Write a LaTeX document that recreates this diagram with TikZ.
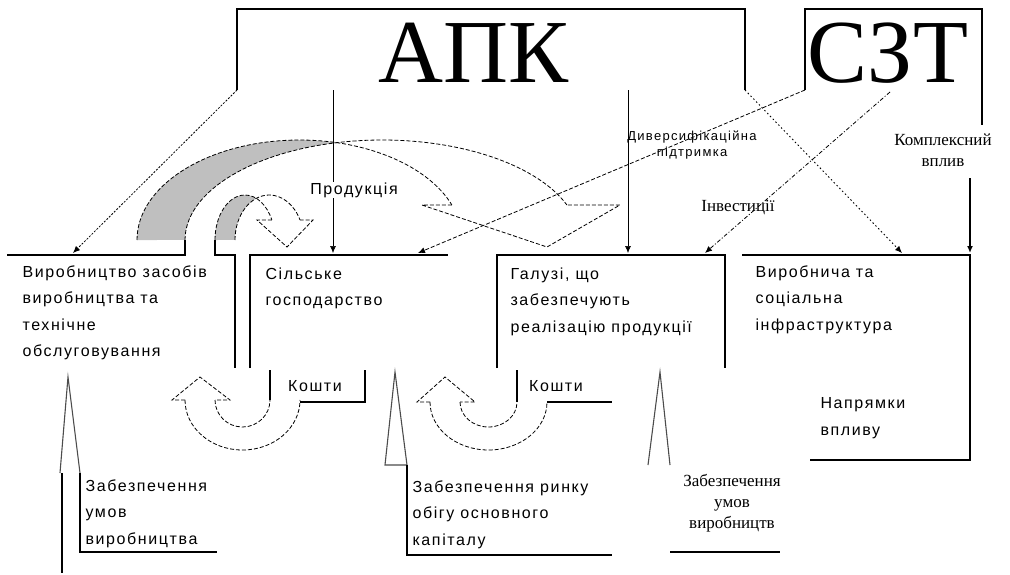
\documentclass[tikz,border=0pt]{standalone}
\usepackage{fontspec}
\setmainfont{Liberation Serif}
\newfontfamily\boxfont{Liberation Sans}[LetterSpace=10]
\usetikzlibrary{arrows.meta}

\tikzset{
    boxtext/.style={font={\boxfont\fontsize{16}{26.5}\selectfont},
        align=left, anchor=north west, inner sep=0pt},
    smalltext/.style={font={\boxfont\fontsize{16}{16}\selectfont},
        align=center, inner sep=1pt},
    serifnote/.style={font={\fontsize{17}{21}\selectfont},
        align=center, inner sep=0pt},
    bigname/.style={font={\fontsize{90}{90}\selectfont},
        anchor=base, inner sep=0pt},
    band/.style={dash pattern=on 4pt off 2pt, line width=0.8pt},
    tipped/.style={-{Latex[length=7pt, width=6pt]}},
}

\begin{document}
\begin{tikzpicture}[x=1pt, y=-1pt, line width=1.1pt]
    \useasboundingbox (0,0) rectangle (1010,574);
    % frames at the top
    \draw (237,90) coordinate (apkBL) |- (745,9) -- (745,90) coordinate (apkBR);
    \node[bigname] (apk) at (474,82) {АПК};
    \draw (805,90) coordinate (sztBL) |- (982,9) -- (982,125);
    \node[bigname] (szt) at (888,82) {СЗТ};
    \coordinate (sztZ) at (890,92);
    \coordinate (kvTop) at (970,178);
    \coordinate (prodTop) at (333,90);
    \coordinate (realTop) at (628,90);
    % arrow ends on the boxes
    \coordinate (b1in) at (73,253);
    \coordinate (b2a) at (333,253);
    \coordinate (b2b) at (418,253);
    \coordinate (b3a) at (628,253);
    \coordinate (b3b) at (705,253);
    \coordinate (b4a) at (902,253);
    \coordinate (b4b) at (970,253);

    % curved arrows, gray back side first
    \fill[black!25] (137,240) arc[start angle=180, end angle=283.26,
        x radius=162.6, y radius=100] arc[start angle=256.7, end angle=180,
        x radius=197.2, y radius=100] -- cycle;
    \fill[black!25] (215,240) arc[start angle=180, end angle=292.13,
        x radius=30, y radius=45] arc[start angle=247.73, end angle=180,
        x radius=34.3, y radius=45] -- cycle;
    \draw[band] (137,240) arc[start angle=180, end angle=339.5,
        x radius=162.6, y radius=100];
    \draw[band] (185,240) arc[start angle=180, end angle=339.5,
        x radius=197.2, y radius=100];
    \draw[band] (451.9,205) -- (422,205) -- (547,247) -- (620,205) -- (566.9,205);
    \draw[band] (215,240) arc[start angle=180, end angle=333.6,
        x radius=30, y radius=45];
    \draw[band] (235,240) arc[start angle=180, end angle=333.6,
        x radius=34.3, y radius=45];
    \draw[band] (271.9,220) -- (257,220) -- (287,247) -- (313,220) -- (300,220);

    % influence arrows
    \draw[tipped, dash pattern=on 2pt off 1.5pt, line width=0.8pt] (apkBL) -- (b1in);
    \draw[tipped, line width=0.6pt] (prodTop) -- (b2a);
    \node[smalltext, fill=white] (prod) at (354,190) {Продукція};
    \draw[tipped, line width=0.6pt] (realTop) -- (b3a);
    \draw[tipped, dash pattern=on 1.5pt off 2.5pt, line width=0.9pt] (apkBR) -- (b4a);
    \draw[tipped, dash pattern=on 4pt off 2pt, line width=0.8pt] (sztBL) -- (b2b);
    \node[smalltext, font={\boxfont\fontsize{13}{16}\selectfont}] (div) at (692,145)
        {Диверсифікаційна\\підтримка};
    \draw[tipped, dash pattern=on 4pt off 2pt on 1pt off 2pt, line width=0.8pt] (sztZ) -- (b3b);
    \node[serifnote] (inv) at (738,208) {Інвестиції};
    \draw[tipped, line width=1.4pt] (kvTop) -- (b4b);
    \node[serifnote] (kv) at (943,150) {Комплексний\\вплив};

    % boxes
    \draw (7,255) -- (185,255) -- (185,240);
    \draw (215,240) -- (215,255) -- (235,255) -- (235,368);
    \draw (250,368) -- (250,255) -- (448,255);
    \draw (497,368) -- (497,255) -- (725,255) -- (725,368);
    \draw (742,255) -- (970,255) -- (970,460) -- (810,460);
    \node[boxtext] (prodn) at (22,265) {Виробництво засобів\\виробництва та\\технічне\\обслуговування};
    \node[boxtext] (agri) at (265,267) {Сільське\\господарство};
    \node[boxtext] (real) at (510,267) {Галузі, що\\забезпечують\\реалізацію продукції};
    \node[boxtext] (infra) at (755,265) {Виробнича та\\соціальна\\інфраструктура};
    \node[boxtext] (dir) at (820,397) {Напрямки\\впливу};

    % money turns
    \draw[band] (185,400) arc[start angle=180, end angle=0, x radius=57.5, y radius=50];
    \draw[band] (215,400) arc[start angle=180, end angle=0, x radius=27.5, y radius=27];
    \draw[band] (185,400) -- (172,400) -- (200,377) -- (230,400) -- (215,400);
    \draw (270,400) -- (270,370);
    \draw (300,402) -- (365,402) -- (365,370);
    \node[smalltext] (kosh1) at (315,386) {Кошти};
    \draw[band] (430,402) arc[start angle=180, end angle=0, x radius=58.5, y radius=48];
    \draw[band] (460,402) arc[start angle=180, end angle=0, x radius=28.5, y radius=25];
    \draw[band] (430,402) -- (417,402) -- (445,377) -- (475,402) -- (460,402);
    \draw (517,402) -- (517,370);
    \draw (547,402) -- (612,402);
    \node[smalltext] (kosh2) at (556,386) {Кошти};

    % needles from below
    \draw[black!70] (60,473) -- (68,377) -- (80,473);
    \draw (62,473) -- (62,573);
    \draw (80,473) -- (80,552) -- (217,552);
    \node[boxtext] (cond) at (85,479) {Забезпечення\\умов\\виробництва};
    \draw[black!70] (385,465) -- (395,372) -- (407,465) -- cycle;
    \draw (407,465) -- (407,555) -- (612,555);
    \node[boxtext] (capit) at (412,480) {Забезпечення ринку\\обігу основного\\капіталу};
    \draw[black!70] (648,465) -- (660,372) -- (670,465);
    \draw (670,552) -- (780,552);
    \node[serifnote, anchor=north] (condr) at (732,474) {Забезпечення\\умов\\виробництв};
\end{tikzpicture}
\end{document}
